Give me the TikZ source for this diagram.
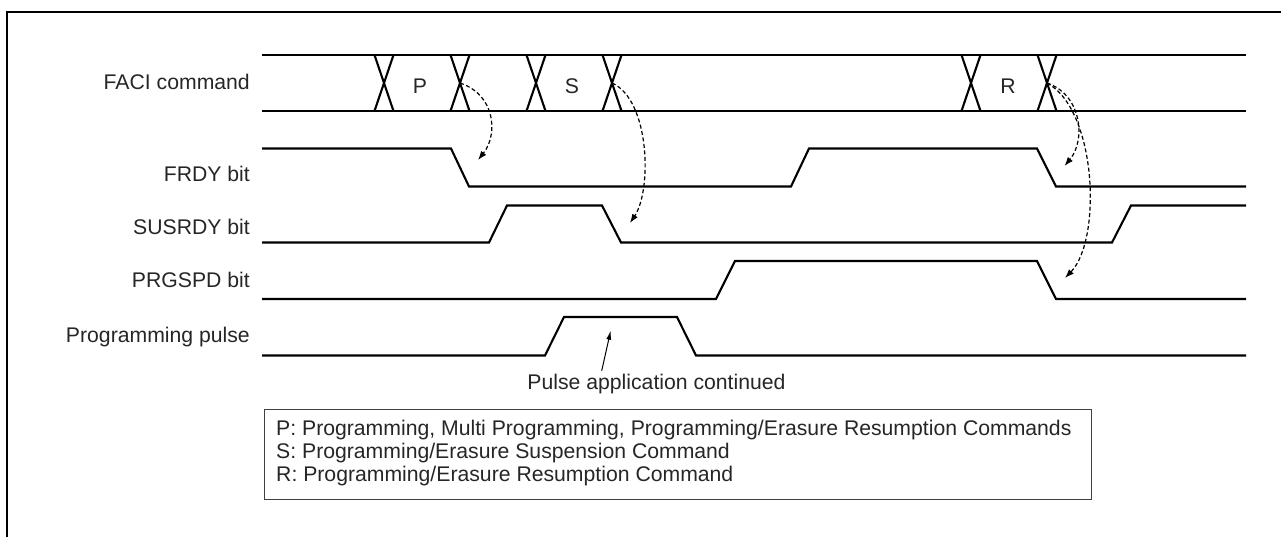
\documentclass[tikz,border=0pt]{standalone}
\usepackage{fontspec}
\setmainfont{Liberation Sans}
\usetikzlibrary{arrows.meta}
\begin{document}
\begin{tikzpicture}[x=1pt,y=-1pt,
  sig/.style={line width=2.1pt, line join=miter, draw=black},
  txt/.style={inner sep=0pt, font=\fontsize{21.2}{25}\selectfont, text=black!85},
  lbl/.style={txt, anchor=east},
  legendtxt/.style={txt, anchor=west},
  dasharrow/.style={line width=1.2pt, dash pattern=on 4pt off 2.5pt, -{Latex[length=9pt,width=6.5pt]}},
  thinarrow/.style={line width=1pt, -{Latex[length=9pt,width=5pt]}}
]
\useasboundingbox (0,0) rectangle (1281,537);
% outer frame
\draw[line width=2pt] (7.3,537) -- (7.3,12) -- (1281,12);

% labels
\node[lbl] (lfaci) at (250,82) {FACI command};
\node[lbl] (lfrdy) at (250,174) {FRDY bit};
\node[lbl] (lsus) at (250,227) {SUSRDY bit};
\node[lbl] (lprg) at (250,280) {PRGSPD bit};
\node[lbl] (lpulse) at (250,337) {Programming pulse};

% FACI bus
\draw[sig] (262,55) -- (1246,55);
\draw[sig] (262,111) -- (1246,111);
\foreach \c/\n in {384/x1,460/x2,536/x3,612/x4,971/x5,1047/x6}{
  \draw[sig] (\c-9.5,55) -- (\c+9.5,111) (\c+9.5,55) -- (\c-9.5,111);
  \coordinate (\n) at (\c,83);
}
\node[txt] (cp) at (420,86) {P};
\node[txt] (cs) at (572,86) {S};
\node[txt] (cr) at (1008,86) {R};

% FRDY
\draw[sig] (262,148.5) -- (451,148.5) -- (469,186.5) -- (791,186.5) -- (809,148.5)
  -- (1037,148.5) -- (1056,186.5) -- (1246,186.5);
% SUSRDY
\draw[sig] (262,242.5) -- (489,242.5) -- (507,205.5) -- (602,205.5) -- (621,242.5)
  -- (1112,242.5) -- (1131,205.5) -- (1246,205.5);
% PRGSPD
\draw[sig] (262,299) -- (716,299) -- (735,261) -- (1037,261) -- (1056,299) -- (1246,299);
% Programming pulse
\draw[sig] (262,355.5) -- (545,355.5) -- (564,317) -- (677,317) -- (696,355.5) -- (1246,355.5);

% dashed causal arrows
\coordinate (a1) at (478,160);
\coordinate (a2) at (630,223);
\coordinate (a3) at (1064.5,166);
\coordinate (a4) at (1065,278);
\draw[dasharrow] (x2) .. controls (496,95) and (498,135) .. (a1);
\draw[dasharrow] (x4) .. controls (650,100) and (652,190) .. (a2);
\draw[dasharrow] (x6) .. controls (1082,95) and (1086,140) .. (a3);
\draw[dasharrow] (x6) .. controls (1097,110) and (1102,240) .. (a4);

% pulse annotation
\node[txt] (pac) at (656.5,384) {Pulse application continued};
\coordinate (pt) at (601.7,370.7);
\coordinate (ph) at (610.7,330.7);
\draw[thinarrow] (pt) -- (ph);

% legend
\node[draw=black!75, line width=1.2pt, inner sep=0pt, anchor=north west,
      minimum width=826.7pt, minimum height=90pt] (legend) at (264,409) {};
\node[legendtxt] (lp) at (276,430) {P: Programming, Multi Programming, Programming/Erasure Resumption Commands};
\node[legendtxt] (ls) at (276,453) {S: Programming/Erasure Suspension Command};
\node[legendtxt] (lr) at (276,476) {R: Programming/Erasure Resumption Command};
\end{tikzpicture}
\end{document}
